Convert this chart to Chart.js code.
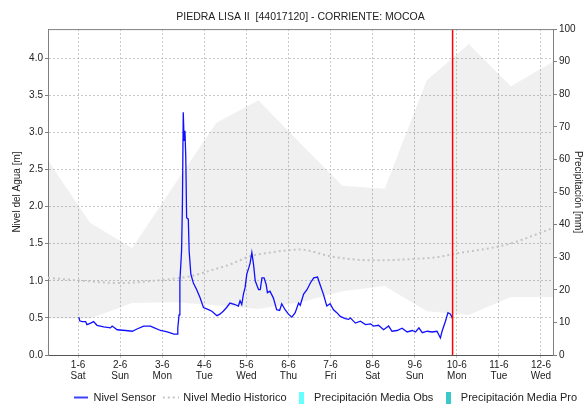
<!DOCTYPE html>
<html>
<head>
<meta charset="utf-8">
<title>PIEDRA LISA II - Nivel del Agua</title>
<script src="https://cdn.jsdelivr.net/npm/chart.js@4.4.0/dist/chart.umd.min.js"></script>
<style>
  body { margin: 0; background: #fff; }
  #wrap { width: 585px; height: 405px; }
</style>
</head>
<body>
<div id="wrap"><canvas id="chart" width="585" height="405"></canvas></div>
<script>
// eje X en días desde el 1-6 00:00
const dayLabels = ['1-6', '2-6', '3-6', '4-6', '5-6', '6-6', '7-6', '8-6', '9-6', '10-6', '11-6', '12-6'];
const weekLabels = ['Sat', 'Sun', 'Mon', 'Tue', 'Wed', 'Thu', 'Fri', 'Sat', 'Sun', 'Mon', 'Tue', 'Wed'];
const xMin = -0.714;
const xMax = 11.286;
const nowDay = 8.90;       // hora actual (línea roja)
const levelMax = 4.39;

// Nivel Sensor [m]
const sensorDays = [
  0.02, 0.04, 0.10, 0.18, 0.21, 0.30, 0.37, 0.45, 0.61, 0.77,
  0.81, 0.93, 1.13, 1.29, 1.40, 1.56, 1.72, 1.80, 1.96, 2.12,
  2.28, 2.36, 2.37, 2.40, 2.42, 2.46, 2.48, 2.50, 2.52, 2.54,
  2.56, 2.58, 2.62, 2.64, 2.68, 2.74, 2.82, 2.90, 2.98, 3.10,
  3.18, 3.30, 3.37, 3.45, 3.53, 3.61, 3.73, 3.81, 3.85, 3.89,
  3.93, 3.97, 4.01, 4.06, 4.09, 4.13, 4.17, 4.21, 4.29, 4.33,
  4.37, 4.42, 4.47, 4.50, 4.56, 4.64, 4.72, 4.79, 4.84, 4.92,
  5.00, 5.08, 5.16, 5.24, 5.28, 5.36, 5.44, 5.52, 5.60, 5.69,
  5.75, 5.83, 5.91, 5.99, 6.07, 6.15, 6.23, 6.35, 6.43, 6.47,
  6.59, 6.71, 6.83, 6.95, 7.02, 7.14, 7.26, 7.38, 7.46, 7.58,
  7.70, 7.82, 7.94, 8.02, 8.10, 8.18, 8.30, 8.41, 8.53, 8.61,
  8.65, 8.73, 8.79, 8.85, 8.90
];
const sensorLevel = [
  0.51, 0.46, 0.45, 0.45, 0.41, 0.43, 0.45, 0.40, 0.38, 0.365,
  0.39, 0.34, 0.33, 0.32, 0.35, 0.39, 0.39, 0.37, 0.33, 0.31,
  0.28, 0.28, 0.36, 0.54, 1.00, 1.40, 2.03, 3.27, 2.89, 3.02,
  2.66, 1.85, 1.83, 1.40, 1.09, 0.97, 0.88, 0.77, 0.64, 0.61,
  0.59, 0.53, 0.55, 0.59, 0.64, 0.70, 0.68, 0.66, 0.73, 0.68,
  0.82, 0.91, 1.09, 1.18, 1.24, 1.38, 1.22, 1.00, 0.88, 0.88,
  1.04, 1.04, 0.95, 0.84, 0.86, 0.77, 0.61, 0.60, 0.69, 0.61,
  0.55, 0.51, 0.57, 0.70, 0.67, 0.82, 0.88, 0.97, 1.04, 1.05,
  0.95, 0.82, 0.66, 0.69, 0.61, 0.57, 0.52, 0.49, 0.48, 0.50,
  0.43, 0.455, 0.41, 0.42, 0.39, 0.40, 0.34, 0.39, 0.32, 0.33,
  0.36, 0.31, 0.33, 0.31, 0.365, 0.30, 0.32, 0.31, 0.32, 0.23,
  0.32, 0.455, 0.57, 0.55, 0.49
];

// Nivel Medio Historico [m]
const histDays = [-0.714, 0, 1.0, 1.8, 2.44, 2.66, 3.1, 3.61, 4.09, 4.56, 5.27, 6.0, 6.49, 7.05, 7.84, 8.55, 8.92, 10.2, 11.286];
const histLevel = [1.04, 1.005, 0.97, 1.00, 1.04, 1.06, 1.13, 1.22, 1.33, 1.38, 1.42, 1.33, 1.29, 1.275, 1.29, 1.32, 1.36, 1.49, 1.71];

// rango histórico (banda gris), un valor por día
const bandDays = [-0.714, 0.286, 1.286, 2.286, 3.286, 4.286, 5.286, 6.286, 7.286, 8.286, 9.286, 10.286, 11.286];
const bandHigh = [2.62, 1.78, 1.44, 2.29, 3.13, 3.43, 2.85, 2.28, 2.24, 3.70, 4.19, 3.62, 3.95];
const bandLow = [0.49, 0.49, 0.70, 0.71, 0.67, 0.62, 0.71, 0.86, 0.93, 0.59, 0.54, 0.78, 0.78];

// precipitación (sin datos en este periodo)
const precipObs = [];
const precipPro = [];

const toPoints = (xs, ys) => xs.map((x, i) => ({ x: x, y: ys[i] }));

function symbol(w, h, draw) {
  const c = document.createElement('canvas');
  c.width = w; c.height = h;
  draw(c.getContext('2d'));
  return c;
}

const legendSymbols = {
  1: symbol(14, 4, g => { g.strokeStyle = '#0000ff'; g.lineWidth = 1.5; g.beginPath(); g.moveTo(0, 2); g.lineTo(14, 2); g.stroke(); }),
  2: symbol(16, 4, g => { g.strokeStyle = '#c4c4c4'; g.lineWidth = 2; g.setLineDash([2, 3]); g.beginPath(); g.moveTo(0, 2); g.lineTo(16, 2); g.stroke(); }),
  3: symbol(5, 12, g => { g.fillStyle = '#66ffff'; g.fillRect(0, 0, 5, 12); }),
  4: symbol(5, 12, g => { g.fillStyle = '#3cc8c8'; g.fillRect(0, 0, 5, 12); })
};

// línea superior del marco
const framePlugin = {
  id: 'frame',
  afterDraw(chart) {
    const a = chart.chartArea, ctx = chart.ctx;
    ctx.save();
    ctx.strokeStyle = '#808080';
    ctx.lineWidth = 1;
    ctx.beginPath();
    ctx.moveTo(a.left, a.top + 0.5);
    ctx.lineTo(a.right, a.top + 0.5);
    ctx.stroke();
    ctx.restore();
  }
};

Chart.defaults.font.family = '"Liberation Sans", Arial, sans-serif';
Chart.defaults.color = '#333';

new Chart(document.getElementById('chart'), {
  type: 'line',
  data: {
    datasets: [
      {
        label: 'Ahora',
        data: [{ x: nowDay, y: 0 }, { x: nowDay, y: levelMax }],
        borderColor: '#ff0000',
        borderWidth: 1.5,
        pointRadius: 0
      },
      {
        label: 'Nivel Sensor',
        data: toPoints(sensorDays, sensorLevel),
        borderColor: '#1010ff',
        borderWidth: 1.3,
        pointRadius: 0,
        tension: 0
      },
      {
        label: 'Nivel Medio Historico',
        data: toPoints(histDays, histLevel),
        borderColor: '#c4c4c4',
        borderWidth: 2,
        borderDash: [2, 3],
        pointRadius: 0,
        cubicInterpolationMode: 'monotone'
      },
      {
        type: 'bar',
        label: 'Precipitación Media Obs',
        data: precipObs,
        yAxisID: 'y1',
        backgroundColor: '#66ffff'
      },
      {
        type: 'bar',
        label: 'Precipitación Media Pro',
        data: precipPro,
        yAxisID: 'y1',
        backgroundColor: '#3cc8c8'
      },
      {
        label: 'max',
        data: toPoints(bandDays, bandHigh),
        borderWidth: 0,
        pointRadius: 0,
        backgroundColor: 'rgba(0,0,0,0.06)',
        fill: { target: 6 }
      },
      {
        label: 'min',
        data: toPoints(bandDays, bandLow),
        borderWidth: 0,
        pointRadius: 0,
        fill: false
      }
    ]
  },
  options: {
    responsive: false,
    animation: false,
    events: [],
    layout: { padding: { top: 0, left: 0, right: 0, bottom: -8 } },
    plugins: {
      title: {
        display: true,
        fullSize: false,
        text: 'PIEDRA LISA II  [44017120] - CORRIENTE: MOCOA',
        font: { size: 10.5, weight: 'normal' },
        color: '#222',
        padding: { top: 11, bottom: 5.5 }
      },
      legend: {
        position: 'bottom',
        align: 'end',
        labels: {
          font: { size: 11 },
          color: '#222',
          usePointStyle: true,
          pointStyleWidth: 14,
          boxHeight: 12,
          padding: 8,
          generateLabels(chart) {
            return Chart.defaults.plugins.legend.labels.generateLabels(chart)
              .filter(it => legendSymbols[it.datasetIndex])
              .map(it => Object.assign(it, { pointStyle: legendSymbols[it.datasetIndex] }));
          }
        }
      },
      tooltip: { enabled: false }
    },
    scales: {
      x: {
        type: 'linear',
        min: xMin,
        max: xMax,
        offset: false,
        afterBuildTicks: s => { s.ticks = dayLabels.map((_, i) => ({ value: i })); },
        afterFit: s => { s.height = 29; },
        ticks: {
          autoSkip: false,
          maxRotation: 0,
          padding: 2,
          font: { size: 10, lineHeight: 1.05 },
          color: '#222',
          callback: (v, i) => [dayLabels[i], weekLabels[i]]
        },
        grid: { offset: false, color: '#c8c8c8', tickLength: 3, tickColor: '#c8c8c8' },
        border: { color: '#555', dash: [2, 2] }
      },
      y: {
        position: 'left',
        min: 0,
        max: levelMax,
        afterFit: s => { s.width = 48; },
        ticks: {
          stepSize: 0.5,
          includeBounds: false,
          padding: 2,
          font: { size: 10 },
          color: '#222',
          callback: v => v.toFixed(1)
        },
        grid: { color: '#c8c8c8', tickLength: 3, tickColor: '#808080' },
        border: { color: '#808080', dash: [2, 2] },
        title: {
          display: true,
          text: 'Nivel del Agua [m]',
          font: { size: 10 },
          color: '#222',
          padding: { top: 11, bottom: 0 }
        }
      },
      y1: {
        position: 'right',
        min: 0,
        max: 100,
        afterFit: s => { s.width = 32; },
        ticks: { stepSize: 10, padding: 2, font: { size: 10 }, color: '#222' },
        grid: { drawOnChartArea: false, tickLength: 4, tickColor: '#808080' },
        border: { color: '#808080' },
        title: {
          display: true,
          text: 'Precipitación [mm]',
          font: { size: 10 },
          color: '#222',
          padding: { top: 1, bottom: 0 }
        }
      }
    }
  },
  plugins: [framePlugin]
});
</script>
</body>
</html>
